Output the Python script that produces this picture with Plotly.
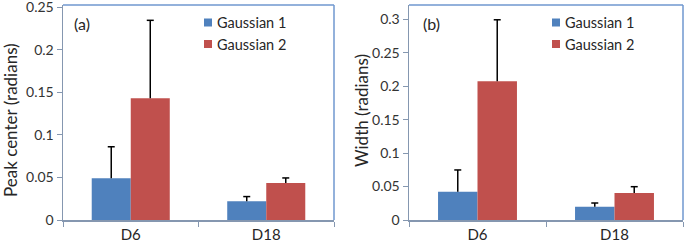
import plotly.graph_objects as go

categories = ["D6", "D18"]
series_names = ["Gaussian 1", "Gaussian 2"]
colors = ["#4F81BD", "#C0504D"]

# Panel (a): Peak center (radians)
peak_g1 = [0.049, 0.022]
peak_g1_err = [0.037, 0.0055]
peak_g2 = [0.143, 0.0436]
peak_g2_err = [0.0915, 0.0058]

# Panel (b): Width (radians)
width_g1 = [0.0423, 0.0199]
width_g1_err = [0.0325, 0.0055]
width_g2 = [0.2073, 0.0404]
width_g2_err = [0.092, 0.0094]

yticks_a = [0, 0.05, 0.1, 0.15, 0.2, 0.25]
yticks_b = [0, 0.05, 0.1, 0.15, 0.2, 0.25, 0.3]

W, H = 685, 245
FONT = "Lato"
AXIS_COL = "#8597B0"
BORDER_COL = "#6F97CF"
TXT = "#262626"

fig = go.Figure()

def add_bars(vals, errs, name, color, xa, ya):
    fig.add_trace(go.Bar(
        x=categories, y=vals, name=name, offsetgroup=name,
        marker=dict(color=color, line=dict(width=0)),
        xaxis=xa, yaxis=ya, showlegend=False, hoverinfo="skip"))
    tops = [v + e for v, e in zip(vals, errs)]
    fig.add_trace(go.Scatter(
        x=categories, y=tops, mode="markers", offsetgroup=name,
        marker=dict(symbol="line-ew", size=5, color="black",
                    line=dict(color="black", width=1.5)),
        error_y=dict(type="data", symmetric=False, array=[0] * len(errs),
                     arrayminus=errs, color="black", thickness=1.5, width=0),
        xaxis=xa, yaxis=ya, showlegend=False, hoverinfo="skip", cliponaxis=False))

add_bars(peak_g1, peak_g1_err, series_names[0], colors[0], "x", "y")
add_bars(peak_g2, peak_g2_err, series_names[1], colors[1], "x", "y")
add_bars(width_g1, width_g1_err, series_names[0], colors[0], "x2", "y2")
add_bars(width_g2, width_g2_err, series_names[1], colors[1], "x2", "y2")

def px_x(p):
    return p / W

def px_y(p):
    return (H - p) / H

xa_dom = [px_x(63), px_x(334)]
xb_dom = [px_x(409), px_x(683)]
y_dom = [px_y(220), px_y(5)]

common_x = dict(type="category", showline=True, linecolor=AXIS_COL, linewidth=1.5,
                ticks="outside", tickson="boundaries", ticklen=5, tickcolor=AXIS_COL,
                tickfont=dict(family=FONT, size=15, color=TXT), showgrid=False,
                zeroline=False, automargin=False)
common_y = dict(showline=True, linecolor=AXIS_COL, linewidth=1.5, ticks="outside",
                ticklen=5, tickcolor=AXIS_COL, showgrid=False, zeroline=False,
                ticklabeloverflow="allow", automargin=False,
                tickfont=dict(family=FONT, size=14, color="#333"))

fig.update_layout(
    width=W, height=H, margin=dict(l=0, r=0, t=0, b=0, autoexpand=False),
    paper_bgcolor="white", plot_bgcolor="white",
    barmode="group", bargap=0.424, bargroupgap=0,
    scattermode="group", scattergap=0.424,
    showlegend=False,
    xaxis=dict(domain=xa_dom, anchor="y", **common_x),
    yaxis=dict(domain=y_dom, anchor="x", range=[0, 0.2525], tickvals=yticks_a,
               ticktext=[str(v) for v in yticks_a], **common_y),
    xaxis2=dict(domain=xb_dom, anchor="y2", **common_x),
    yaxis2=dict(domain=y_dom, anchor="x2", range=[0, 0.3214], tickvals=yticks_b,
                ticktext=[str(v) for v in yticks_b], **common_y),
)

shapes = []
annotations = []
for xd, sq_x in [(xa_dom, 204), (xb_dom, 552)]:
    shapes.append(dict(type="line", xref="paper", yref="paper", x0=xd[0], x1=xd[1],
                       y0=y_dom[1], y1=y_dom[1], line=dict(color=BORDER_COL, width=1.5)))
    shapes.append(dict(type="line", xref="paper", yref="paper", x0=xd[1], x1=xd[1],
                       y0=y_dom[0], y1=y_dom[1], line=dict(color=BORDER_COL, width=1.5)))
    for i, (nm, col) in enumerate(zip(series_names, colors)):
        cy = 22.5 + i * 21.5
        shapes.append(dict(type="rect", xref="paper", yref="paper",
                           x0=px_x(sq_x), x1=px_x(sq_x + 8), y0=px_y(cy + 4), y1=px_y(cy - 4),
                           fillcolor=col, line=dict(width=0)))
        annotations.append(dict(xref="paper", yref="paper", x=px_x(sq_x + 11), y=px_y(cy),
                                text=nm, showarrow=False, xanchor="left", yanchor="middle",
                                font=dict(family=FONT, size=14.5, color=TXT)))

annotations.append(dict(xref="paper", yref="paper", x=px_x(72), y=px_y(23), text="(a)",
                        showarrow=False, xanchor="left", yanchor="middle",
                        font=dict(family=FONT, size=16, color=TXT)))
annotations.append(dict(xref="paper", yref="paper", x=px_x(421), y=px_y(23), text="(b)",
                        showarrow=False, xanchor="left", yanchor="middle",
                        font=dict(family=FONT, size=16, color=TXT)))
annotations.append(dict(xref="paper", yref="paper", x=px_x(10), y=px_y(120),
                        text="Peak center (radians)", textangle=-90, showarrow=False,
                        xanchor="center", yanchor="middle",
                        font=dict(family=FONT, size=17, color=TXT)))
annotations.append(dict(xref="paper", yref="paper", x=px_x(361), y=px_y(110),
                        text="Width (radians)", textangle=-90, showarrow=False,
                        xanchor="center", yanchor="middle",
                        font=dict(family=FONT, size=17, color=TXT)))

fig.update_layout(shapes=shapes, annotations=annotations)
fig.write_html("out.html", config={"displayModeBar": False, "staticPlot": True},
               post_script="document.body.style.margin='0';document.body.style.overflow='hidden';")
